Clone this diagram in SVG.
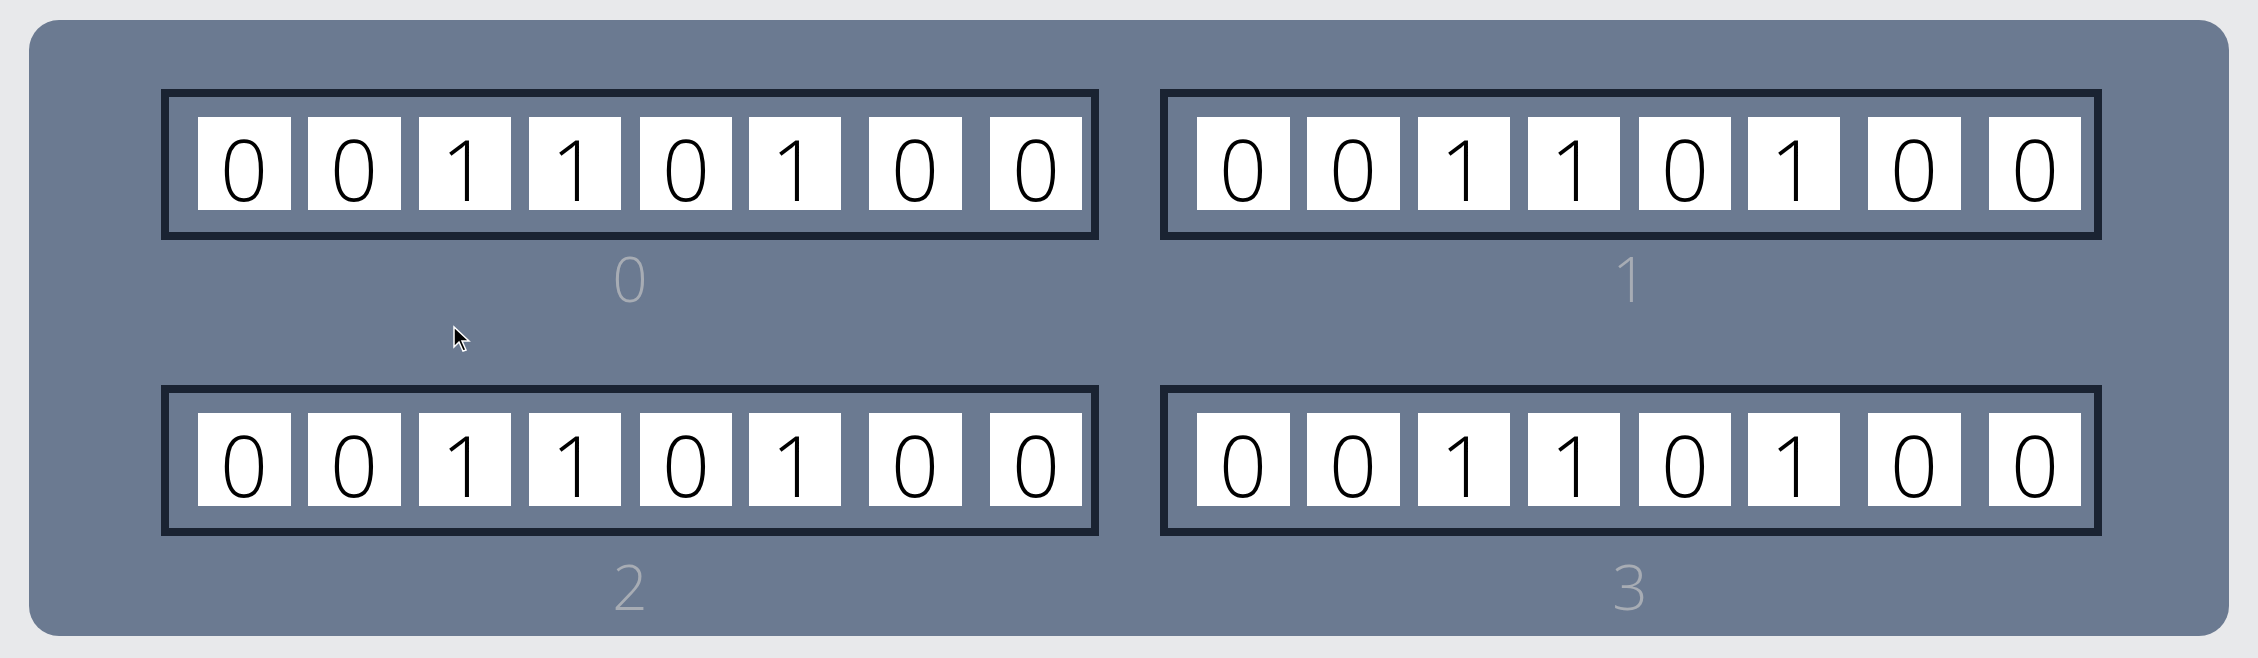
<svg xmlns="http://www.w3.org/2000/svg" width="2258" height="658" viewBox="0 0 2258 658">
<style>
.reg{fill:none;stroke:#1a2332;stroke-width:8}
.cell{fill:#ffffff}
.bit{font-family:"Open Sans","Liberation Sans",sans-serif;font-weight:300;font-size:84px;fill:#000;text-anchor:middle}
.lbl{font-family:"Open Sans","Liberation Sans",sans-serif;font-weight:300;font-size:62px;fill:#a7acb4;text-anchor:middle}
</style>
<defs>
<g id="cells">
<rect class="cell" x="37" y="28" width="93" height="93"/>
<rect class="cell" x="147" y="28" width="93" height="93"/>
<rect class="cell" x="258" y="28" width="92" height="93"/>
<rect class="cell" x="368" y="28" width="92" height="93"/>
<rect class="cell" x="479" y="28" width="92" height="93"/>
<rect class="cell" x="588" y="28" width="92" height="93"/>
<rect class="cell" x="708" y="28" width="93" height="93"/>
<rect class="cell" x="829" y="28" width="92" height="93"/>
</g>
</defs>
<rect x="0" y="0" width="2258" height="658" fill="#e8e9eb"/>
<rect id="panel" x="29" y="20" width="2200" height="616" rx="30" ry="30" fill="#6b7a91"/>

<g id="reg0" transform="translate(161,89)">
<rect class="reg" x="4" y="4" width="930" height="143"/>
<use href="#cells"/>
<text class="bit" x="83" y="112">0</text>
<text class="bit" x="193" y="112">0</text>
<text class="bit" x="304" y="112">1</text>
<text class="bit" x="414" y="112">1</text>
<text class="bit" x="525" y="112">0</text>
<text class="bit" x="634" y="112">1</text>
<text class="bit" x="754" y="112">0</text>
<text class="bit" x="875" y="112">0</text>
<text class="lbl" x="469" y="213">0</text>
</g>

<g id="reg1" transform="translate(1160,89)">
<rect class="reg" x="4" y="4" width="934" height="143"/>
<use href="#cells"/>
<text class="bit" x="83" y="112">0</text>
<text class="bit" x="193" y="112">0</text>
<text class="bit" x="304" y="112">1</text>
<text class="bit" x="414" y="112">1</text>
<text class="bit" x="525" y="112">0</text>
<text class="bit" x="634" y="112">1</text>
<text class="bit" x="754" y="112">0</text>
<text class="bit" x="875" y="112">0</text>
<text class="lbl" x="470" y="213">1</text>
</g>

<g id="reg2" transform="translate(161,385)">
<rect class="reg" x="4" y="4" width="930" height="143"/>
<use href="#cells"/>
<text class="bit" x="83" y="112">0</text>
<text class="bit" x="193" y="112">0</text>
<text class="bit" x="304" y="112">1</text>
<text class="bit" x="414" y="112">1</text>
<text class="bit" x="525" y="112">0</text>
<text class="bit" x="634" y="112">1</text>
<text class="bit" x="754" y="112">0</text>
<text class="bit" x="875" y="112">0</text>
<text class="lbl" x="469" y="225">2</text>
</g>

<g id="reg3" transform="translate(1160,385)">
<rect class="reg" x="4" y="4" width="934" height="143"/>
<use href="#cells"/>
<text class="bit" x="83" y="112">0</text>
<text class="bit" x="193" y="112">0</text>
<text class="bit" x="304" y="112">1</text>
<text class="bit" x="414" y="112">1</text>
<text class="bit" x="525" y="112">0</text>
<text class="bit" x="634" y="112">1</text>
<text class="bit" x="754" y="112">0</text>
<text class="bit" x="875" y="112">0</text>
<text class="lbl" x="470" y="225">3</text>
</g>

<g id="cursor" transform="translate(454,327)">
<path d="M0,0 L0,20 L5,15 L9,24 L12,23 L8,14 L15,14 Z" fill="#000" stroke="#fff" stroke-width="1.5"/>
</g>
</svg>
